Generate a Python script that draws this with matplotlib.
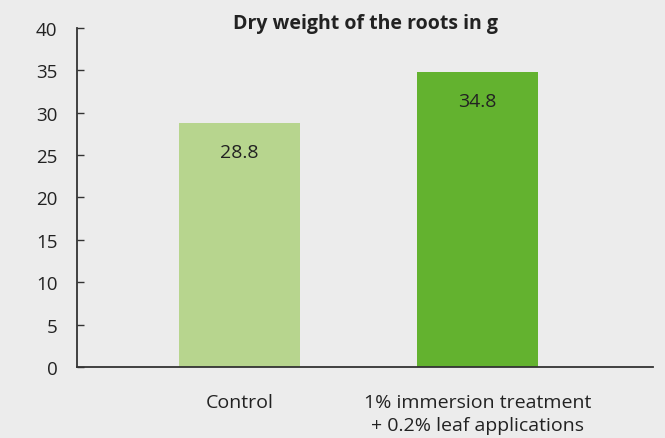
import matplotlib
matplotlib.use("Agg")
import matplotlib.pyplot as plt

categories = ["Control", "1% immersion treatment\n+ 0.2% leaf applications"]
values = [28.8, 34.8]
value_labels = ["28.8", "34.8"]
yticks = [0, 5, 10, 15, 20, 25, 30, 35, 40]
title = "Dry weight of the roots in g"
colors = ["#b7d58e", "#63b22f"]

plt.rcParams['font.family'] = ['Open Sans', 'DejaVu Sans']
bg = "#ececec"
tc = "#222222"

fig = plt.figure(figsize=(6.65, 4.39), dpi=100, facecolor=bg)
ax = fig.add_axes([0.1158, 0.1617, 0.9820 - 0.1158, 0.934 - 0.1617])
ax.set_facecolor(bg)

x = list(range(len(categories)))
ax.bar(x, values, width=0.508, color=colors, zorder=2)
for xi, v, lab in zip(x, values, value_labels):
    ax.annotate(lab, (xi, v), xytext=(0, -29), textcoords="offset pixels",
                ha="center", va="center", fontsize=14, color=tc)

ax.set_xlim(-0.683, 1.737)
ax.set_ylim(0, 40)
ax.set_yticks(yticks)
ax.set_yticklabels([str(t) for t in yticks], fontsize=13.5, color=tc)
ax.set_xticks(x)
ax.set_xticklabels(categories, fontsize=14, color=tc, linespacing=1.3, va="top")
ax.tick_params(axis="x", length=0, pad=19)
ax.tick_params(axis="y", direction="in", length=5, width=1, color="#333333", pad=14)
for s in ["top", "right"]:
    ax.spines[s].set_visible(False)
for s in ["left", "bottom"]:
    ax.spines[s].set_color("#333333")
    ax.spines[s].set_linewidth(1.3)

fig.text(0.5489, 1 - 24 / 439, title, ha="center", va="center",
         fontsize=14, fontweight="bold", color=tc)

fig.savefig("out.png", dpi=100, facecolor=bg)
